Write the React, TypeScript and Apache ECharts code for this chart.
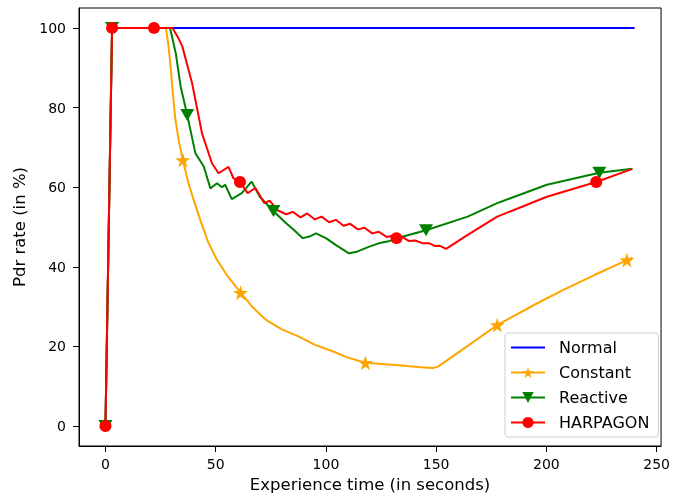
import React, { useEffect, useRef } from "react";
import * as echarts from "echarts";

const xTicks = [0, 50, 100, 150, 200, 250];
const yTicks = [0, 20, 40, 60, 80, 100];

const normalX = [0, 3, 240];
const normalY = [0, 100, 100];

const constantX = [0, 3, 27.4, 28.5, 29.5, 30.5, 31.6, 33.3, 35.1, 37.5, 40, 43, 46.5, 50.6, 55, 61.3, 67, 73, 80, 88, 95, 103, 110, 117.9, 133, 143, 148.6, 151, 165, 177.7, 195, 207, 222, 236.5, 239];
const constantY = [0, 100, 100, 96, 90.5, 84, 77.5, 71.5, 66.8, 61.3, 56.8, 51.8, 46.3, 41.7, 38, 33.5, 29.7, 26.6, 24.3, 22.4, 20.4, 18.8, 17.2, 15.9, 15.3, 14.8, 14.6, 15, 20.4, 25.4, 30.6, 34, 38, 41.7, 42.3];
const constantMarks = [35.1, 61.3, 117.9, 177.7, 236.5];

const reactiveX = [0, 3, 29.3, 31.9, 34.1, 37.1, 40.8, 44.6, 47.6, 50.6, 52.8, 54.3, 57.3, 61.8, 66.3, 70, 76.2, 81.2, 85, 89.5, 92.5, 95.5, 100, 104.4, 110.4, 114.1, 119.4, 123.9, 128.4, 135, 145.4, 164.3, 177.7, 200.2, 224, 239];
const reactiveY = [0, 100, 100, 93.6, 85.3, 78.1, 68.5, 65.2, 59.7, 61, 60, 60.6, 57, 58.5, 61.4, 57.6, 54, 51.3, 49.5, 47.2, 47.6, 48.4, 47.2, 45.5, 43.4, 43.8, 45, 45.9, 46.4, 47.6, 49.2, 52.6, 56, 60.6, 63.6, 64.6];
const reactiveMarks = [0, 3, 37.1, 76.2, 145.4, 224];

const harpagonX = [0, 3, 22, 30.4, 33, 34.9, 39.3, 43.8, 48.3, 51.3, 55.8, 58, 61, 64.5, 68, 72, 74.5, 78, 82, 85, 88.5, 91.5, 95, 98, 101.5, 104.5, 108, 111, 114.5, 117.5, 121, 124, 127.5, 130, 132, 135, 137.5, 140.5, 144, 147, 149.5, 151.5, 154.5, 164.3, 177.7, 200.2, 222.6, 239];
const harpagonY = [0, 100, 100, 100, 97.5, 95.3, 86.1, 73.5, 66, 63.5, 65.1, 62.3, 61.3, 58.5, 59.8, 56, 56.6, 54.2, 53.2, 53.8, 52.4, 53.4, 51.9, 52.6, 51.2, 51.8, 50.3, 50.8, 49.4, 49.8, 48.4, 48.8, 47.5, 47.8, 47.2, 47.4, 46.5, 46.6, 45.9, 45.9, 45.2, 45.3, 44.5, 48, 52.6, 57.6, 61.3, 64.6];
const harpagonMarks = [0, 3, 22, 61, 132, 222.6];

const STAR =
  "path://M0,-1 L0.2245,-0.309 L0.951,-0.309 L0.363,0.118 L0.588,0.809 L0,0.382 L-0.588,0.809 L-0.363,0.118 L-0.951,-0.309 L-0.2245,-0.309 Z";
const TRI_DOWN = "path://M0,0 L2,0 L1,1.75 Z";
const LINE_ICON = "path://M0,0 M34,14 M0,6 L34,6 L34,8 L0,8 Z";

const FONT = "DejaVu Sans";

function build(xs: number[], ys: number[], marks: number[]) {
  return xs.map((x, i) => {
    const item: any = { value: [x, ys[i]] };
    if (!marks.includes(x)) item.symbol = "none";
    return item;
  });
}

export default function App() {
  const ref = useRef<HTMLDivElement>(null);
  useEffect(() => {
    if (!ref.current) return;
    const chart = echarts.init(ref.current, undefined, { renderer: "svg" });
    const line = (name: string, color: string, xs: number[], ys: number[], marks: number[], symbol: string, size: any) => ({
      name,
      type: "line",
      data: build(xs, ys, marks),
      symbol,
      symbolSize: size,
      showAllSymbol: true,
      lineStyle: { color, width: 2 },
      itemStyle: { color },
      emphasis: { disabled: true },
    });
    chart.setOption({
      animation: false,
      textStyle: { fontFamily: FONT },
      grid: { left: 79, right: 8, top: 8, bottom: 52, show: true, borderColor: "#000", borderWidth: 1 },
      legend: {
        orient: "vertical",
        left: 505,
        top: 333,
        padding: [6, 9, 6, 5],
        itemWidth: 34,
        itemHeight: 14,
        itemGap: 8,
        backgroundColor: "#fff",
        borderColor: "#d0d0d0",
        borderWidth: 1,
        borderRadius: 3,
        textStyle: { fontFamily: FONT, fontSize: 16, color: "#000", lineHeight: 17, padding: [0, 0, 0, 9] },
        data: [{ name: "Normal", icon: LINE_ICON }, "Constant", "Reactive", "HARPAGON"],
      },
      xAxis: {
        type: "value",
        min: -12,
        max: 252,
        name: "Experience time (in seconds)",
        nameLocation: "middle",
        nameGap: 28,
        nameTextStyle: { fontFamily: FONT, fontSize: 16.5, color: "#000" },
        axisLine: { onZero: false, lineStyle: { color: "#000", width: 1 } },
        axisTick: { customValues: xTicks, length: 6, lineStyle: { color: "#000" } },
        axisLabel: { customValues: xTicks, margin: 11, fontFamily: FONT, fontSize: 14, color: "#000" },
        splitLine: { show: false },
      },
      yAxis: {
        type: "value",
        min: -5,
        max: 105,
        name: "Pdr rate (in %)",
        nameLocation: "middle",
        nameGap: 51,
        nameTextStyle: { fontFamily: FONT, fontSize: 16.5, color: "#000" },
        axisLine: { show: true, onZero: false, lineStyle: { color: "#000", width: 1 } },
        axisTick: { show: true, customValues: yTicks, length: 6, lineStyle: { color: "#000" } },
        axisLabel: { customValues: yTicks, margin: 13, fontFamily: FONT, fontSize: 14, color: "#000" },
        splitLine: { show: false },
      },
      series: [
        line("Normal", "#0000ff", normalX, normalY, [], "none", 0),
        line("Constant", "#ffa500", constantX, constantY, constantMarks, STAR, 15),
        line("Reactive", "#008000", reactiveX, reactiveY, reactiveMarks, TRI_DOWN, [14, 12]),
        line("HARPAGON", "#ff0000", harpagonX, harpagonY, harpagonMarks, "circle", 12),
      ],
    });
    return () => chart.dispose();
  }, []);
  return <div ref={ref} style={{ position: "fixed", left: 0, top: 0, width: 673, height: 498 }} />;
}
